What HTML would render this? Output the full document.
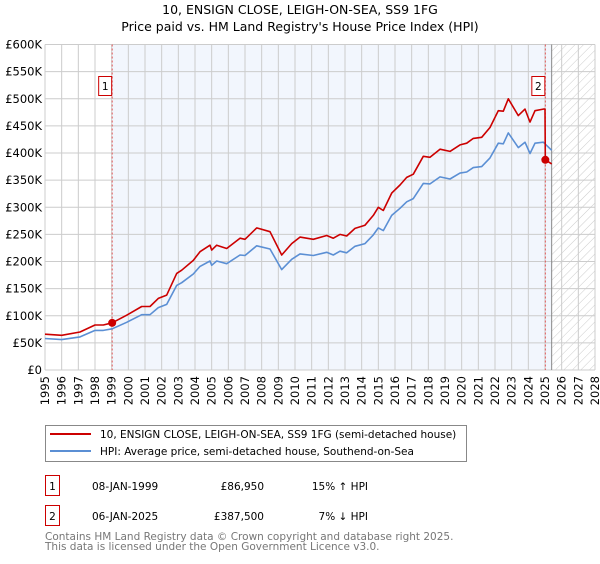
<!DOCTYPE html>
<html><head><meta charset="utf-8"><style>
body{margin:0;background:#fff;font-family:"DejaVu Sans","Liberation Sans",sans-serif;}
svg text{font-family:"DejaVu Sans","Liberation Sans",sans-serif;}
</style></head><body>
<svg width="600" height="560" viewBox="0 0 600 560" xmlns="http://www.w3.org/2000/svg">
<defs><pattern id="hatch" width="6" height="6" patternUnits="userSpaceOnUse" patternTransform="rotate(45)"><line x1="0" y1="0" x2="0" y2="6" stroke="#ccc" stroke-width="1"/></pattern></defs>
<text x="300" y="14" text-anchor="middle" font-size="12.5">10, ENSIGN CLOSE, LEIGH-ON-SEA, SS9 1FG</text>
<text x="300" y="31" text-anchor="middle" font-size="12.5">Price paid vs. HM Land Registry's House Price Index (HPI)</text>
<g id="plot"></g>
<g>
<rect x="45.5" y="425.5" width="421" height="36" fill="#fff" stroke="#888"/>
<line x1="50" y1="434" x2="91" y2="434" stroke="#cc0000" stroke-width="2"/>
<text x="100" y="438" font-size="10.5">10, ENSIGN CLOSE, LEIGH-ON-SEA, SS9 1FG (semi-detached house)</text>
<line x1="50" y1="451" x2="91" y2="451" stroke="#5b8fd4" stroke-width="2"/>
<text x="100" y="455" font-size="10.5">HPI: Average price, semi-detached house, Southend-on-Sea</text>
</g>
<g font-size="10.5">
<rect x="45.5" y="475.5" width="14" height="20" fill="#fff" stroke="#cc0000"/>
<text x="52.5" y="490" text-anchor="middle">1</text>
<text x="92" y="490">08-JAN-1999</text>
<text x="264" y="490" text-anchor="end">£86,950</text>
<text x="368" y="490" text-anchor="end">15% ↑ HPI</text>
<rect x="45.5" y="505.5" width="14" height="20" fill="#fff" stroke="#cc0000"/>
<text x="52.5" y="520" text-anchor="middle">2</text>
<text x="92" y="520">06-JAN-2025</text>
<text x="264" y="520" text-anchor="end">£387,500</text>
<text x="368" y="520" text-anchor="end">7% ↓ HPI</text>
</g>
<text x="45" y="540" font-size="10.5" fill="#777">Contains HM Land Registry data © Crown copyright and database right 2025.</text>
<text x="45" y="550" font-size="10.5" fill="#777">This data is licensed under the Open Government Licence v3.0.</text>
</svg>
<script>
const redYears=[1995,1996,1997.1,1998,1998.5,1999.03,1999.9,2000.8,2001.3,2001.8,2002.3,2002.9,2003.2,2003.9,2004.3,2004.9,2005.0,2005.3,2005.9,2006.7,2007.0,2007.7,2008.5,2009.2,2009.8,2010.3,2011.1,2011.9,2012.3,2012.7,2013.1,2013.6,2014.2,2014.7,2015.0,2015.3,2015.8,2016.3,2016.7,2017.1,2017.7,2018.1,2018.7,2019.3,2019.9,2020.3,2020.7,2021.2,2021.7,2022.2,2022.5,2022.8,2023.4,2023.8,2024.1,2024.4,2024.9,2025.0,2025.02,2025.4];
const redValues=[66,64,70,83,83,87,101,117,117,132,138,178,184,202,218,230,221,230,224,243,241,262,255,212,233,245,241,248,243,250,247,261,267,285,300,294,326,341,355,361,394,392,407,403,415,418,427,429,447,478,477,500,469,481,457,478,481,481,387.5,380];
const hpiYears=[1995,1996,1997.1,1998,1998.5,1999.03,1999.9,2000.8,2001.3,2001.8,2002.3,2002.9,2003.2,2003.9,2004.3,2004.9,2005.0,2005.3,2005.9,2006.7,2007.0,2007.7,2008.5,2009.2,2009.8,2010.3,2011.1,2011.9,2012.3,2012.7,2013.1,2013.6,2014.2,2014.7,2015.0,2015.3,2015.8,2016.3,2016.7,2017.1,2017.7,2018.1,2018.7,2019.3,2019.9,2020.3,2020.7,2021.2,2021.7,2022.2,2022.5,2022.8,2023.4,2023.8,2024.1,2024.4,2024.9,2025.4];
const hpiValues=[58,56,61,73,73,76,88,102,102,115,121,156,161,177,191,201,193,201,196,212,211,229,223,185,204,214,211,217,212,219,216,228,233,249,262,257,285,298,310,316,344,343,356,352,363,365,373,375,391,418,417,437,410,420,399,418,420,405];
const yTicks=[0,50,100,150,200,250,300,350,400,450,500,550,600];
const yTickLabels=["£0","£50K","£100K","£150K","£200K","£250K","£300K","£350K","£400K","£450K","£500K","£550K","£600K"];
const xTicks=[];for(let y=1995;y<=2028;y++)xTicks.push(y);
const sales=[{n:"1",year:1999.03,value:86.95},{n:"2",year:2025.02,value:387.5}];
const dataEnd=2025.4;
const X0=45,X1=595,Y0=370,Y1=44.5;
const xs=y=>X0+(y-1995)/(2028-1995)*(X1-X0);
const ys=v=>Y0-v/600*(Y0-Y1);
const NS="http://www.w3.org/2000/svg";
const g=document.getElementById('plot');
function mk(t,a,p){const e=document.createElementNS(NS,t);for(const k in a)e.setAttribute(k,a[k]);(p||g).appendChild(e);return e;}
let e;
e=mk('rect',{x:xs(sales[0].year),y:Y1,width:xs(dataEnd)-xs(sales[0].year),height:Y0-Y1,fill:'#f2f6fd'});


e=mk('rect',{x:xs(dataEnd),y:Y1,width:X1-xs(dataEnd),height:Y0-Y1,fill:'url(#hatch)'});


xTicks.forEach(t=>{
 e=mk('line',{x1:xs(t),x2:xs(t),y1:Y1,y2:Y0,stroke:'#ccc','stroke-width':1});
 
 
 e=mk('text',{x:0,y:0,transform:`translate(${xs(t)+4},${Y0+6}) rotate(-90)`,'text-anchor':'end','font-size':11.5});
 e.textContent=t;
 
 
});
yTicks.forEach((t,i)=>{
 e=mk('line',{x1:X0,x2:X1,y1:ys(t),y2:ys(t),stroke:'#ccc','stroke-width':1});
 
 
 e=mk('text',{x:X0-3,y:ys(t)+4,'text-anchor':'end','font-size':11.5});
 e.textContent=yTickLabels[i];
 
 
});
e=mk('line',{x1:xs(dataEnd),x2:xs(dataEnd),y1:Y1,y2:Y0,stroke:'#888','stroke-width':1});


sales.forEach(s=>{
 e=mk('line',{x1:xs(s.year),x2:xs(s.year),y1:Y1,y2:Y0,stroke:'#e05555','stroke-width':1,'stroke-dasharray':'2,2'});
 
 
});
function path(xa,va,col,name){
 const d=xa.map((x,i)=>(i?'L':'M')+xs(x).toFixed(1)+','+ys(va[i]).toFixed(1)).join('');
 const p=mk('path',{d:d,fill:'none',stroke:col,'stroke-width':1.6,'stroke-linejoin':'round'});
 
 
}
path(hpiYears,hpiValues,'#5b8fd4','hpi-line');
path(redYears,redValues,'#cc0000','price-paid-line');
sales.forEach(s=>{
 e=mk('circle',{cx:xs(s.year),cy:ys(s.value),r:4,fill:'#cc0000'});
 
 
 const bx=xs(s.year)-13;
 e=mk('rect',{x:bx-0.5,y:76.5,width:13,height:19,fill:'#fff',stroke:'#cc0000'});
 
 
 e=mk('text',{x:bx+6,y:90,'text-anchor':'middle','font-size':10.5});
 e.textContent=s.n;
 
 
});
</script>
</body></html>
